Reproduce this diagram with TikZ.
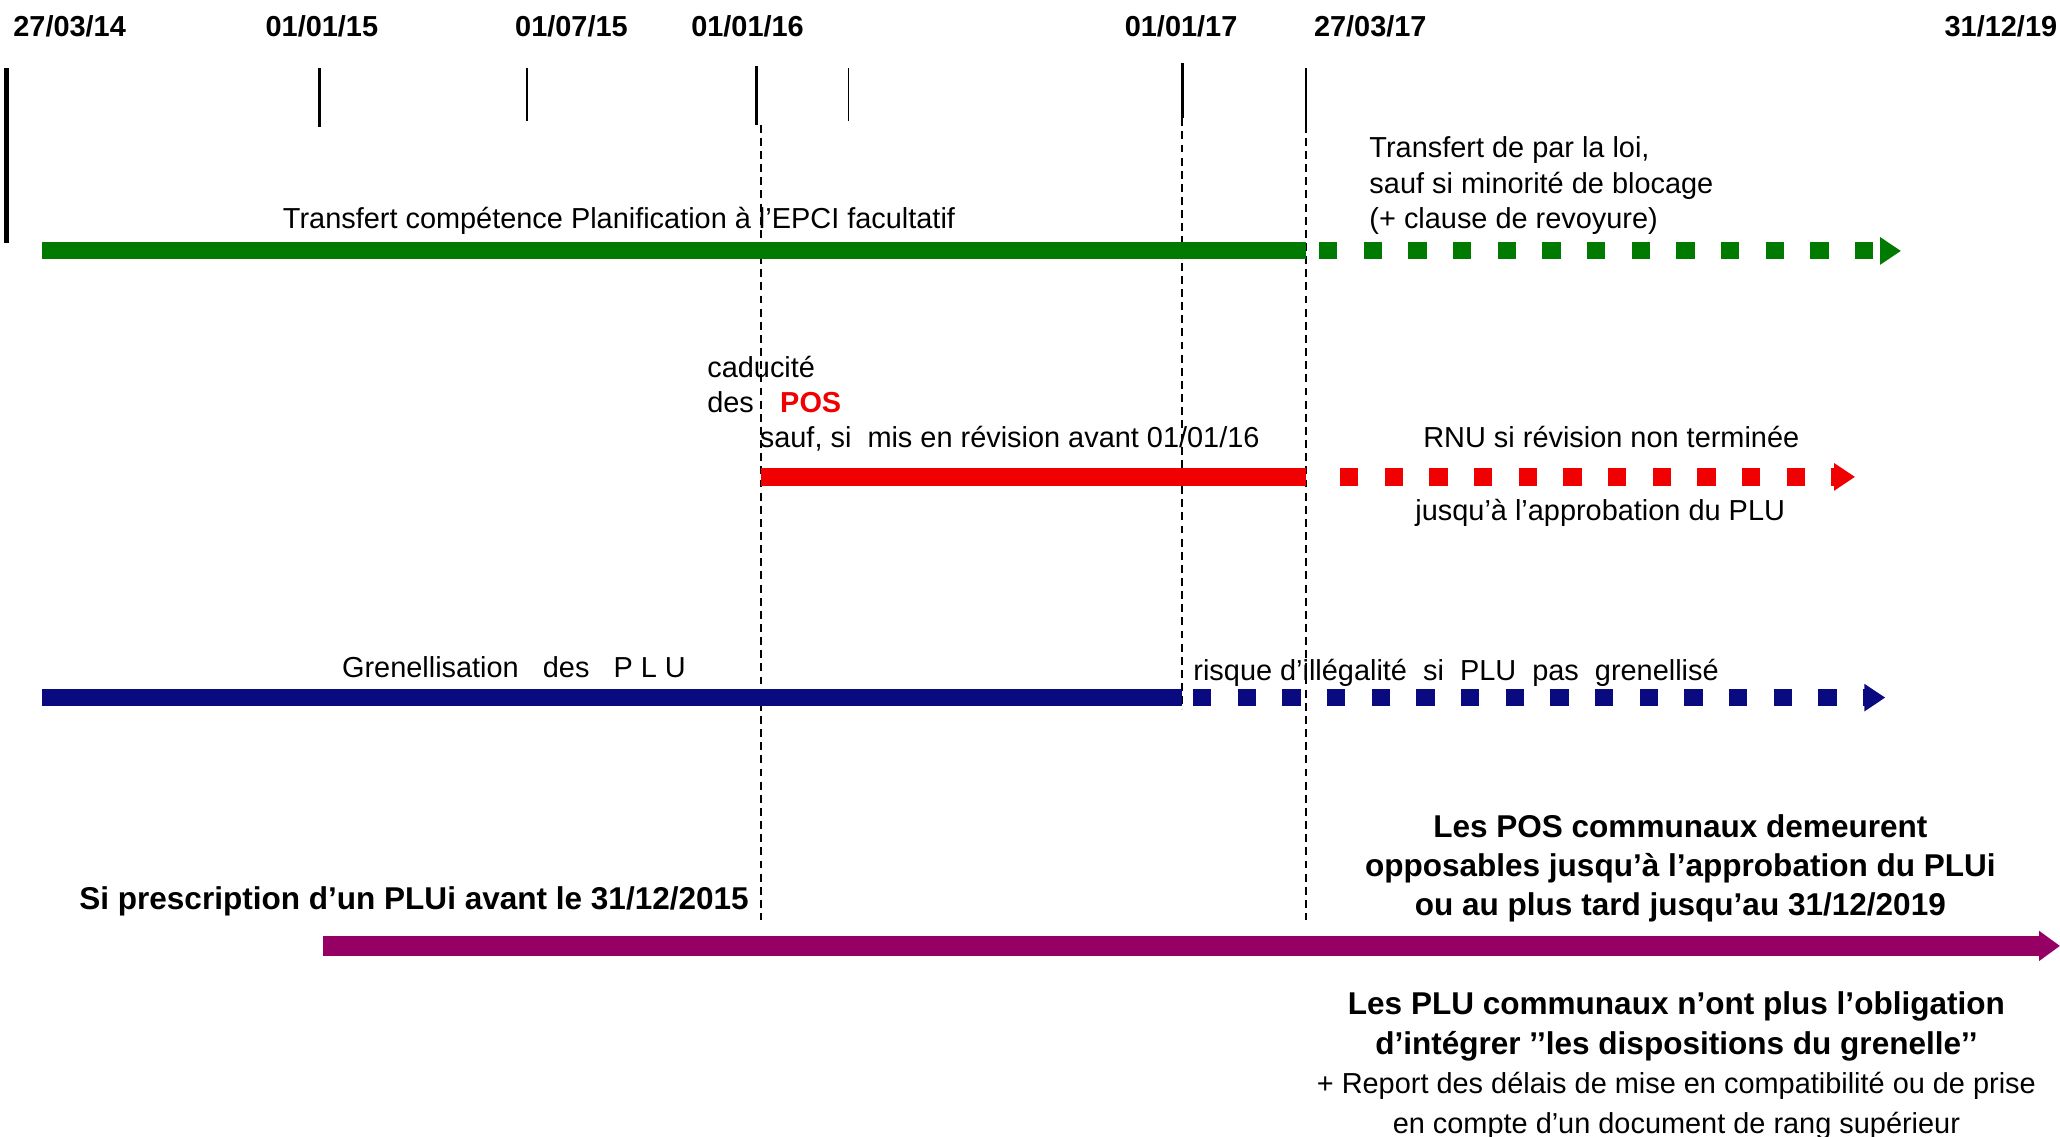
\documentclass[tikz,border=0pt]{standalone}
\usepackage{fontspec}
\setmainfont{Liberation Sans}
\usetikzlibrary{arrows.meta}
\definecolor{grgreen}{RGB}{0,122,0}
\definecolor{grred}{RGB}{240,0,0}
\definecolor{grblue}{RGB}{10,10,128}
\definecolor{grpurple}{RGB}{150,0,100}
\begin{document}
\begin{tikzpicture}[x=0.5pt,y=-0.5pt,
	txt/.style={inner sep=0pt,anchor=base west,font=\fontsize{11}{13.5}\selectfont},
	datelbl/.style={inner sep=0pt,anchor=base,font=\fontsize{11}{13.5}\selectfont\bfseries},
	boldtxt/.style={inner sep=0pt,font=\fontsize{12}{15}\selectfont\bfseries},
	guide/.style={line width=0.8pt,dash pattern=on 3pt off 2pt},
	bar/.style={line width=6.5pt},
	dotbar/.style={line width=6.5pt,dash pattern=on 7pt off 10pt,-{Triangle[length=8pt,width=10pt]}}]
	\useasboundingbox (0,0) rectangle (1568,865);
	% dates
	\node[datelbl] (d1) at (53,28) {27/03/14};
	\node[datelbl] (d2) at (245,28) {01/01/15};
	\node[datelbl] (d3) at (435,28) {01/07/15};
	\node[datelbl] (d4) at (569,28) {01/01/16};
	\node[datelbl] (d5) at (899,28) {01/01/17};
	\node[datelbl] (d6) at (1043,28) {27/03/17};
	\node[datelbl] (d7) at (1523,28) {31/12/19};
	\draw[line width=1.6pt] (5,52) -- (5,185);
	\draw[line width=1.2pt] (243,52) -- (243,97);
	\draw[line width=0.6pt] (401,52) -- (401,92);
	\draw[line width=1.2pt] (576,50) -- (576,95);
	\draw[line width=0.6pt] (646,52) -- (646,92);
	\draw[line width=0.9pt] (900,48) -- (900,90);
	\draw[line width=0.6pt] (994,52) -- (994,95);
	\draw[guide] (579,95) -- (579,700);
	\draw[guide] (900,90) -- (900,540);
	\draw[guide] (994,95) -- (994,700);
	% planification
	\coordinate (g0) at (32,191);
	\coordinate (g1) at (994,191);
	\coordinate (g2) at (1447,191);
	\draw[bar,grgreen] (g0) -- (g1);
	\draw[dotbar,grgreen] ([xshift=5pt]g1) -- (g2);
	\node[txt] (gtxt) at (215,174) {Transfert compétence Planification à l'EPCI facultatif};
	\node[txt,align=left] (gloi) at (1042,174) {Transfert de par la loi,\\sauf si minorité de blocage\\(+ clause de revoyure)};
	% POS
	\coordinate (r0) at (579,363);
	\coordinate (r1) at (994,363);
	\coordinate (r2) at (1412,363);
	\draw[bar,grred,line width=7pt] (r0) -- (r1);
	\draw[dotbar,grred,line width=7pt] ([xshift=13pt]r1) -- (r2);
	\node[txt,align=left] (cad) at (538,314) {caducité\\des\hspace{10pt}{\bfseries\color{grred}POS}};
	\node[txt] (sauf) at (578,341) {sauf, si\ \ mis en révision avant 01/01/16};
	\node[txt] (rnu) at (1083,341) {RNU si révision non terminée};
	\node[txt] (jusq) at (1077,396) {jusqu'à l'approbation du PLU};
	% PLU
	\coordinate (b0) at (32,531);
	\coordinate (b1) at (900,531);
	\coordinate (b2) at (1435,531);
	\draw[bar,grblue] (b0) -- (b1);
	\draw[dotbar,grblue] ([xshift=4pt]b1) -- (b2);
	\node[txt] (gren) at (260,516) {Grenellisation\ \ \ des\ \ \ P L U};
	\node[txt] (risq) at (908,518) {risque d'illégalité\ \ si\ \ PLU\ \ pas\ \ grenellisé};
	% PLUi
	\coordinate (p0) at (246,720);
	\coordinate (p1) at (1568,720);
	\draw[grpurple,line width=7.5pt,-{Triangle[length=8pt,width=11pt]}] (p0) -- (p1);
	\node[boldtxt,anchor=base west] (presc) at (60,692) {Si prescription d'un PLUi avant le 31/12/2015};
	\node[boldtxt,align=center] (posc) at (1279,661) {Les POS communaux demeurent\\opposables jusqu'à l'approbation du PLUi\\ou au plus tard jusqu'au 31/12/2019};
	\node[boldtxt,align=center] (pluc) at (1276,811) {Les PLU communaux n'ont plus l'obligation\\d'intégrer ’’les dispositions du grenelle’’\\{\mdseries\fontsize{11}{13}\selectfont + Report des délais de mise en compatibilité ou de prise}\\{\mdseries\fontsize{11}{13}\selectfont en compte d'un document de rang supérieur}};
\end{tikzpicture}
\end{document}
